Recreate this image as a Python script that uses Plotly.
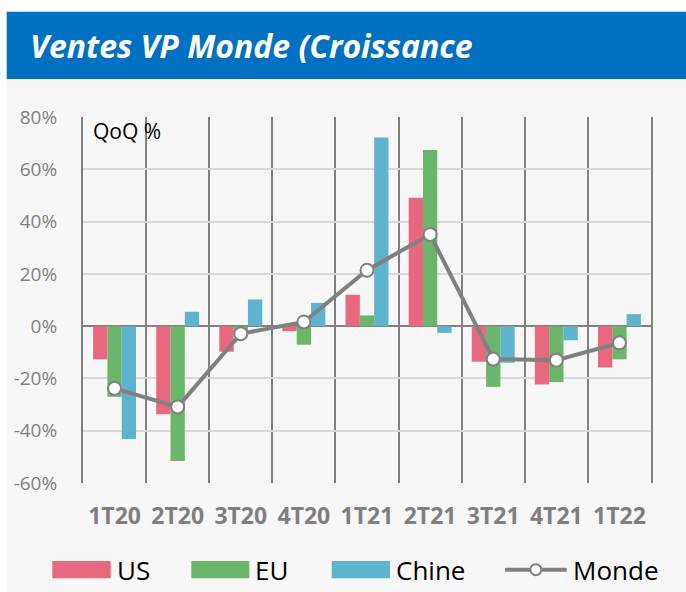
import plotly.graph_objects as go

categories = ["1T20", "2T20", "3T20", "4T20", "1T21", "2T21", "3T21", "4T21", "1T22"]
us = [-12.7, -33.7, -9.8, -1.9, 12.0, 49.1, -13.6, -22.3, -15.8]
eu = [-27.0, -51.6, -2.7, -7.1, 4.1, 67.4, -23.2, -21.4, -12.7]
chine = [-43.2, 5.5, 10.2, 8.9, 72.2, -2.6, -14.0, -5.4, 4.6]
monde = [-23.8, -30.9, -2.9, 1.6, 21.4, 35.1, -12.6, -13.0, -6.4]
y_ticks = [80, 60, 40, 20, 0, -20, -40, -60]
y_labels = ["80%", "60%", "40%", "20%", "0%", "-20%", "-40%", "-60%"]
series_names = ["US", "EU", "Chine", "Monde"]
title_text = "Ventes VP Monde (Croissance"
note_text = "QoQ %"

C_US = "#E8697D"
C_EU = "#6BB66B"
C_CN = "#5EB4CE"
C_MONDE = "#808080"
GRID = "#D9D9D9"
DARK = "#808080"
PANEL = "#F7F7F7"
BLUE = "#0070C0"

W, H = 686, 592
L, R, T, B = 83, 651, 117, 483
PW, PH = R - L, B - T


def px(x):
    return (x - L) / PW


def py(y):
    return (B - y) / PH


FONT = "Open Sans"

fig = go.Figure()
for name, vals, col in [(series_names[0], us, C_US), (series_names[1], eu, C_EU), (series_names[2], chine, C_CN)]:
    fig.add_trace(go.Bar(x=categories, y=vals, name=name, marker=dict(color=col, line=dict(width=0)),
                         showlegend=False))
fig.add_trace(go.Scatter(x=categories, y=monde, name=series_names[3], mode="lines+markers",
                         line=dict(color=C_MONDE, width=4),
                         marker=dict(size=13, color="white", line=dict(color=C_MONDE, width=2)),
                         showlegend=False))

shapes = [
    dict(type="rect", xref="paper", yref="paper", x0=px(6.7), x1=px(W), y0=py(79), y1=py(H),
         fillcolor=PANEL, line=dict(width=0), layer="below"),
    dict(type="rect", xref="paper", yref="paper", x0=px(6.7), x1=px(W), y0=py(11.7), y1=py(79),
         fillcolor=BLUE, line=dict(width=0), layer="below"),
]
annotations = [
    dict(text="<b><i>" + title_text + "</i></b>", xref="paper", yref="paper", x=px(28), y=py(45),
         xanchor="left", yanchor="middle", showarrow=False, font=dict(family=FONT, size=32, color="white")),
    dict(text=note_text, xref="paper", yref="paper", x=px(91), y=py(131), xanchor="left", yanchor="middle",
         showarrow=False, font=dict(family=FONT, size=21, color="black")),
]

# custom legend
leg_y0, leg_y1 = 561, 578.3
leg_cy = (leg_y0 + leg_y1) / 2
box_x = [(52.3, 110.7), (191.3, 249.3), (331.7, 390.0)]
for (x0, x1), col, name in zip(box_x, [C_US, C_EU, C_CN], series_names[:3]):
    shapes.append(dict(type="rect", xref="paper", yref="paper", x0=px(x0), x1=px(x1), y0=py(leg_y1), y1=py(leg_y0),
                       fillcolor=col, line=dict(width=0)))
    annotations.append(dict(text=name, xref="paper", yref="paper", x=px(x1 + 4), y=py(leg_cy), xanchor="left",
                            yanchor="middle", showarrow=False, font=dict(family=FONT, size=26, color="black")))
mx0, mx1 = 505, 566.7
shapes.append(dict(type="line", xref="paper", yref="paper", x0=px(mx0), x1=px(mx1), y0=py(leg_cy), y1=py(leg_cy),
                   line=dict(color=C_MONDE, width=4)))
mc = (mx0 + mx1) / 2
shapes.append(dict(type="circle", xref="paper", yref="paper", x0=px(mc - 5.5), x1=px(mc + 5.5),
                   y0=py(leg_cy + 5.5), y1=py(leg_cy - 5.5), fillcolor="white", line=dict(color=C_MONDE, width=2)))
annotations.append(dict(text=series_names[3], xref="paper", yref="paper", x=px(mx1 + 4), y=py(leg_cy),
                        xanchor="left", yanchor="middle", showarrow=False,
                        font=dict(family=FONT, size=26, color="black")))

fig.update_layout(
    width=W, height=H,
    margin=dict(l=L, r=W - R, t=T, b=H - B, pad=0),
    paper_bgcolor="white", plot_bgcolor=PANEL,
    barmode="group", bargap=0.32, bargroupgap=0,
    showlegend=False,
    shapes=shapes, annotations=annotations,
    font=dict(family=FONT),
)
fig.update_xaxes(type="category", range=[-0.5, len(categories) - 0.5], tickson="boundaries",
                 showgrid=True, gridcolor=DARK, gridwidth=2,
                 ticks="", showline=False, zeroline=False,
                 tickfont=dict(family=FONT, size=23, color="#7F7F7F", weight="bold"),
                 ticklabelstandoff=17)
fig.update_yaxes(range=[-60, 80], tickmode="array", tickvals=y_ticks, ticktext=y_labels,
                 showgrid=True, gridcolor=GRID, gridwidth=2,
                 zeroline=True, zerolinecolor=DARK, zerolinewidth=2,
                 showline=True, linecolor=DARK, linewidth=2, mirror=True,
                 ticks="", tickfont=dict(family=FONT, size=19, color="#7F7F7F"),
                 ticklabelstandoff=20)

fig.write_html("out.html", config={"displayModeBar": False},
               post_script="document.body.style.margin='0';document.body.style.padding='0';")
